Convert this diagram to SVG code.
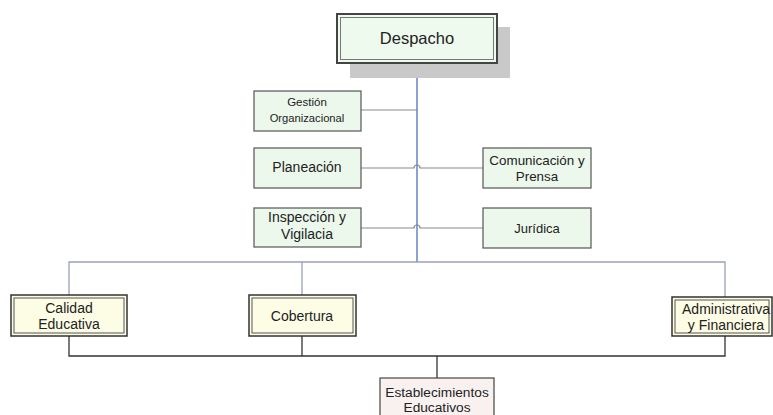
<svg xmlns="http://www.w3.org/2000/svg" width="773" height="415" viewBox="0 0 773 415">
<style>
text{font-family:"Liberation Sans",Arial,sans-serif;fill:#222;text-anchor:middle}
.g1 rect{fill:#ecf8ec;stroke:#555;stroke-width:1.2}
.g2 .o{fill:#fdfde6;stroke:#333;stroke-width:1.5}
.g2 .i{fill:none;stroke:#555;stroke-width:1}
.blue{stroke:#6a80c4;stroke-width:1.5;fill:none}
.gray{stroke:#8a8a8a;stroke-width:1.2;fill:none}
.slate{stroke:#9aa2bc;stroke-width:1.3;fill:none}
.dark{stroke:#333;stroke-width:1.3;fill:none}
</style>
<rect width="773" height="415" fill="#fff"/>
<g id="connectors">
<line class="gray" x1="361" y1="110" x2="417" y2="110"/>
<path class="gray" d="M361,168 H414 A3,3 0 0 1 420,168 H483"/>
<path class="gray" d="M361,228 H414 A3,3 0 0 1 420,228 H483"/>
<line class="blue" x1="417" y1="63" x2="417" y2="262"/>
<path class="slate" d="M69,296 V262 H725 V297"/>
<line class="slate" x1="302" y1="262" x2="302" y2="295"/>
<path class="dark" d="M69,336 V356 H725 V336"/>
<line class="dark" x1="302" y1="336" x2="302" y2="356"/>
<line class="dark" x1="437" y1="356" x2="437" y2="378"/>
</g>
<g id="despacho">
<rect x="350" y="27" width="160" height="51" fill="#c9c9c9"/>
<rect x="337" y="14" width="160" height="49" fill="#eefaee" stroke="#444" stroke-width="2"/>
<rect x="340.5" y="17.5" width="153" height="42" fill="none" stroke="#777" stroke-width="1"/>
<text x="417" y="44" font-size="16.5">Despacho</text>
</g>
<g id="gestion" class="g1">
<rect x="254" y="91" width="107" height="40"/>
<text x="307" y="106" font-size="11.5">Gestión</text>
<text x="307" y="122" font-size="11.2">Organizacional</text>
</g>
<g id="planeacion" class="g1">
<rect x="254" y="148" width="107" height="40"/>
<text x="307" y="172" font-size="14">Planeación</text>
</g>
<g id="inspeccion" class="g1">
<rect x="254" y="208" width="107" height="39"/>
<text x="307" y="222" font-size="14">Inspección y</text>
<text x="307" y="239" font-size="14">Vigilacia</text>
</g>
<g id="comunicacion" class="g1">
<rect x="483" y="148" width="108" height="40"/>
<text x="537" y="165" font-size="13.4">Comunicación y</text>
<text x="537" y="181" font-size="13.4">Prensa</text>
</g>
<g id="juridica" class="g1">
<rect x="483" y="208" width="108" height="40"/>
<text x="537" y="233" font-size="13">Jurídica</text>
</g>
<g id="calidad" class="g2">
<rect class="o" x="11" y="295" width="116" height="41"/>
<rect class="i" x="14" y="298" width="110" height="35"/>
<text x="69" y="313" font-size="14">Calidad</text>
<text x="69" y="329" font-size="14">Educativa</text>
</g>
<g id="cobertura" class="g2">
<rect class="o" x="249" y="295" width="107" height="41"/>
<rect class="i" x="252" y="298" width="101" height="35"/>
<text x="302" y="321" font-size="14">Cobertura</text>
</g>
<g id="administrativa" class="g2">
<rect class="o" x="672" y="297" width="100" height="39"/>
<rect class="i" x="675" y="300" width="94" height="33"/>
<text x="726" y="314" font-size="14">Administrativa</text>
<text x="726" y="330" font-size="14">y Financiera</text>
</g>
<g id="establecimientos">
<rect x="380" y="378" width="114" height="45" fill="#f9f1ef" stroke="#444" stroke-width="1.2"/>
<text x="437" y="397" font-size="13.7">Establecimientos</text>
<text x="437" y="412" font-size="13.7">Educativos</text>
</g>
</svg>
